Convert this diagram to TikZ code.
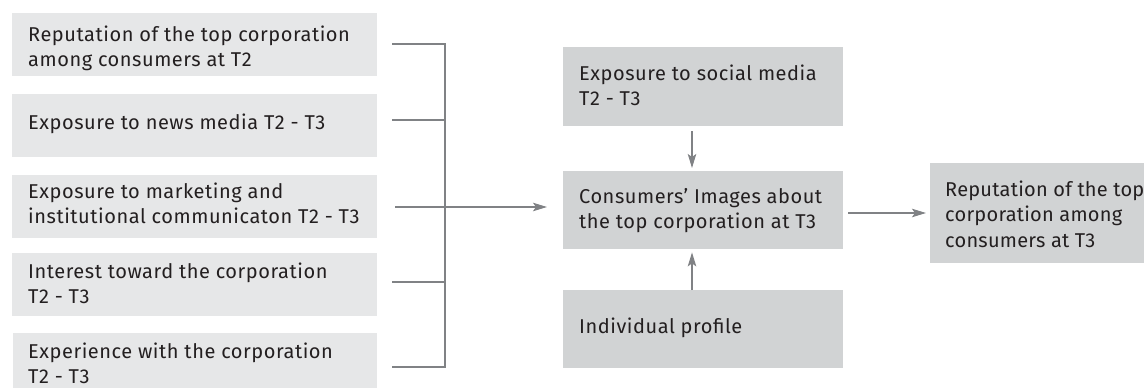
\documentclass[tikz,border=0pt]{standalone}
\usepackage{fontspec}
\setmainfont[LetterSpace=2.7]{Fira Sans}
\usetikzlibrary{arrows.meta,calc}
\definecolor{lightbox}{HTML}{E6E7E8}
\definecolor{darkbox}{HTML}{D1D3D4}
\definecolor{linegray}{HTML}{808285}
\definecolor{txtcol}{HTML}{231F20}
\newcommand{\boxtext}[1]{\parbox[t]{400pt}{\fontsize{20}{25.5}\selectfont\raggedright #1}}
\tikzset{
  lbox/.style={fill=lightbox, draw=none, anchor=north west, inner sep=0pt},
  dbox/.style={fill=darkbox, draw=none, anchor=north west, inner sep=0pt},
  btext/.style={anchor=base west, inner sep=0pt, text=txtcol},
  conn/.style={draw=linegray, line width=1.2pt},
  arr/.style={conn, -{Stealth[length=14pt, width=8.5pt, inset=3pt]}},
}
\begin{document}
\begin{tikzpicture}[x=1pt,y=-1pt]
\useasboundingbox (0,0) rectangle (1144,388);
% left boxes
\node[lbox, minimum width=365pt, minimum height=63pt] (b1) at (12,13) {};
\node[lbox, minimum width=365pt, minimum height=63pt] (b2) at (12,94) {};
\node[lbox, minimum width=365pt, minimum height=63pt] (b3) at (12,175) {};
\node[lbox, minimum width=365pt, minimum height=63pt] (b4) at (12,253) {};
\node[lbox, minimum width=364pt, minimum height=60pt] (b5) at (13,333) {};
\node[btext] (t1) at (28,41) {\boxtext{Reputation of the top corporation\\among consumers at T2}};
\node[btext] (t2) at (28,129) {\boxtext{Exposure to news media T2 - T3}};
\node[btext] (t3) at (28,198) {\boxtext{Exposure to marketing and\\institutional communicaton T2 - T3}};
\node[btext] (t4) at (28,278) {\boxtext{Interest toward the corporation\\T2 - T3}};
\node[btext] (t5) at (28,358) {\boxtext{Experience with the corporation\\T2 - T3}};
% middle boxes
\node[dbox, minimum width=280pt, minimum height=79pt] (soc) at (563,47) {};
\node[dbox, minimum width=280pt, minimum height=78pt] (cons) at (563,171) {};
\node[dbox, minimum width=280pt, minimum height=78pt] (prof) at (563,290) {};
\node[btext] (tsoc) at (579,80) {\boxtext{Exposure to social media\\T2 - T3}};
\node[btext] (tcons) at (579,203) {\boxtext{Consumers' Images about\\the top corporation at T3}};
\node[btext] (tprof) at (579,333) {\boxtext{Individual profile}};
% right box
\node[dbox, minimum width=214pt, minimum height=100pt] (rep) at (930,163) {};
\node[btext] (trep) at (945,196) {\boxtext{\addfontfeature{LetterSpace=1.2}Reputation of the top\\corporation among\\consumers at T3}};
% bracket coordinates
\coordinate (l1) at (392,44);
\coordinate (l2) at (392,120);
\coordinate (l3) at (395,207);
\coordinate (l4) at (392,282);
\coordinate (l5) at (392,367);
\coordinate (j1) at (445,44);
\coordinate (j2) at (445,120);
\coordinate (j4) at (445,282);
\coordinate (j5) at (445,367);
\draw[conn] (l1) -- (j1) -- (j5) -- (l5);
\draw[conn] (l2) -- (j2);
\draw[conn] (l4) -- (j4);
\draw[arr, shorten >=16pt] (l3) -- (l3 -| cons.west);
% vertical arrows
\draw[arr, shorten <=5pt, shorten >=3pt] (soc.south -| 692,0) -- (cons.north -| 692,0);
\draw[arr, shorten >=3pt] (prof.north -| 692,0) -- (cons.south -| 692,0);
% right arrow
\draw[arr, shorten <=5pt, shorten >=4pt] (cons.east |- 0,213) -- (rep.west |- 0,213);
\end{tikzpicture}
\end{document}
